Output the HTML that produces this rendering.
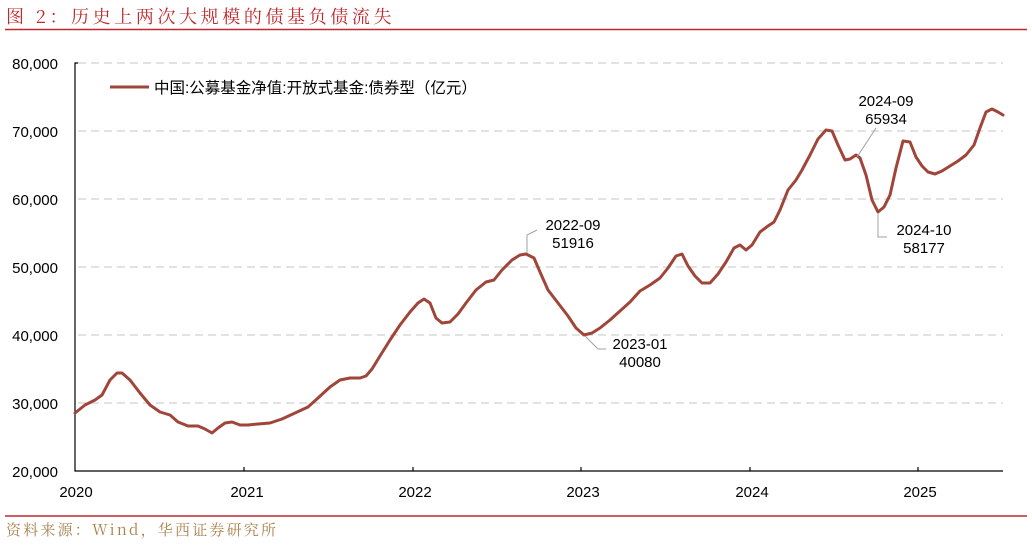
<!DOCTYPE html>
<html><head><meta charset="utf-8"><style>
body{margin:0;background:#fff;width:1032px;height:544px;overflow:hidden}
svg text{font-family:"Liberation Sans","Noto Sans CJK SC",sans-serif}
</style></head><body>
<svg width="1032" height="544" viewBox="0 0 1032 544" xmlns="http://www.w3.org/2000/svg">
<text x="6" y="23" font-size="18" fill="#c0282d" style="font-family:'Noto Serif CJK SC',serif;letter-spacing:3.6px">图 2：历史上两次大规模的债基负债流失</text>
<line x1="5" y1="29.5" x2="1027" y2="29.5" stroke="#c0282d" stroke-width="1.5"/>
<g stroke="#d0d0d0" stroke-dasharray="8,5" stroke-width="1.2">
<line x1="78" y1="63" x2="1003" y2="63"/><line x1="78" y1="131" x2="1003" y2="131"/><line x1="78" y1="199" x2="1003" y2="199"/><line x1="78" y1="267" x2="1003" y2="267"/><line x1="78" y1="335" x2="1003" y2="335"/><line x1="78" y1="403" x2="1003" y2="403"/>
</g>
<g stroke="#000" stroke-width="1.2" fill="none">
<path d="M78,63H75V471H1003"/>
<line x1="244" y1="467" x2="244" y2="471"/><line x1="413" y1="467" x2="413" y2="471"/><line x1="581" y1="467" x2="581" y2="471"/><line x1="750" y1="467" x2="750" y2="471"/><line x1="918" y1="467" x2="918" y2="471"/>
</g>
<g font-size="15" fill="#000" text-anchor="end">
<text x="58" y="69">80,000</text><text x="58" y="137">70,000</text><text x="58" y="205">60,000</text><text x="58" y="273">50,000</text><text x="58" y="341">40,000</text><text x="58" y="409">30,000</text><text x="58" y="477">20,000</text>
</g>
<g font-size="15" fill="#000" text-anchor="middle">
<text x="76" y="497">2020</text><text x="247" y="497">2021</text><text x="415" y="497">2022</text><text x="583" y="497">2023</text><text x="752" y="497">2024</text><text x="920" y="497">2025</text>
</g>
<line x1="110" y1="87" x2="149" y2="87" stroke="#a0453a" stroke-width="3"/>
<text x="154" y="93" font-size="15.5" fill="#000">中国:公募基金净值:开放式基金:债券型（亿元）</text>
<polyline fill="none" stroke="#a0453a" stroke-width="3" stroke-linejoin="round" stroke-linecap="round" points="75,413 85,405 95,400 102,395 110,380 117,373 122,373 130,380 140,393 150,405 160,412 170,415 178,422 188,426 198,426 205,429 212,433 218,428 225,423 232,422 240,425 248,425 258,424 270,423 282,419 295,413 308,407 318,398 330,387 340,380 350,378 360,378 366,376 372,369 380,356 390,340 400,325 410,312 418,303 424,299 430,303 436,318 442,323 450,322 458,314 466,303 476,290 486,282 494,280 502,270 512,260 520,255 526,254 534,258 540,272 548,290 558,303 568,316 576,328 584,335 592,333 600,328 610,320 620,311 630,302 640,291 650,285 660,278 668,268 676,256 682,254 688,266 695,276 702,283 710,283 718,274 726,262 734,248 740,245 746,250 752,245 760,232 768,226 774,222 780,210 788,190 796,180 802,170 810,155 818,139 826,130 832,131 838,145 845,160 850,159 856,155 860,158 866,175 872,200 878,212 884,207 890,195 896,168 903,141 910,142 916,157 922,166 928,172 935,174 942,171 950,166 958,161 966,155 974,145 980,128 986,112 992,109 998,112 1003,115"/>
<g stroke="#a0a0a0" stroke-width="1" fill="none">
<path d="M527,253V235L537,230"/>
<path d="M585,336L598,349H606"/>
<path d="M857,157L876,128"/>
<path d="M878,213V237H887"/>
</g>
<g font-size="15" fill="#000" text-anchor="middle">
<text x="573" y="230">2022-09</text><text x="573" y="248">51916</text>
<text x="640" y="349">2023-01</text><text x="640" y="367">40080</text>
<text x="886" y="106">2024-09</text><text x="886" y="124">65934</text>
<text x="924" y="235">2024-10</text><text x="924" y="253">58177</text>
</g>
<line x1="5" y1="516" x2="1027" y2="516" stroke="#c0282d" stroke-width="1.5"/>
<text x="6" y="535" font-size="15" fill="#a8824c" style="font-family:'Noto Serif CJK SC','Liberation Mono',monospace;letter-spacing:2.2px">资料来源：Wind，华西证券研究所</text>
</svg>
</body></html>
